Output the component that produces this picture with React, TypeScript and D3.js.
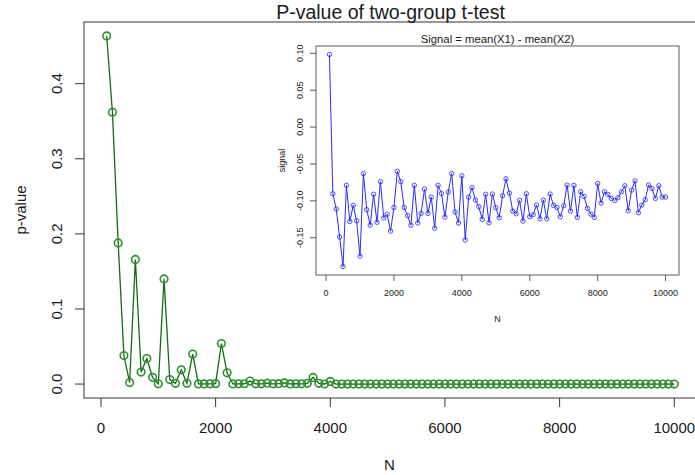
import React from "react";
import * as d3 from "d3";

// ---- data ----
const sampleSizes: number[] = [
  100, 200, 300, 400, 500, 600, 700, 800, 900, 1000,
  1100, 1200, 1300, 1400, 1500, 1600, 1700, 1800, 1900, 2000,
  2100, 2200, 2300, 2400, 2500, 2600, 2700, 2800, 2900, 3000,
  3100, 3200, 3300, 3400, 3500, 3600, 3700, 3800, 3900, 4000,
  4100, 4200, 4300, 4400, 4500, 4600, 4700, 4800, 4900, 5000,
  5100, 5200, 5300, 5400, 5500, 5600, 5700, 5800, 5900, 6000,
  6100, 6200, 6300, 6400, 6500, 6600, 6700, 6800, 6900, 7000,
  7100, 7200, 7300, 7400, 7500, 7600, 7700, 7800, 7900, 8000,
  8100, 8200, 8300, 8400, 8500, 8600, 8700, 8800, 8900, 9000,
  9100, 9200, 9300, 9400, 9500, 9600, 9700, 9800, 9900, 10000,
];

const pValues: number[] = [
  0.4636, 0.362, 0.188, 0.038, 0.002, 0.166, 0.016, 0.034, 0.009, 0.0004,
  0.14, 0.006, 0.001, 0.019, 0.001, 0.04, 0.0002, 0.0002, 0.0003, 0.0006,
  0.054, 0.015, 0.0002, 0.0003, 0.0004, 0.004, 0.0003, 0.0003, 0.0012, 0.0003,
  0.0005, 0.0015, 0.0002, 0.0004, 0.0003, 0.001, 0.0088, 0.001, 0.0001, 0.0035,
  0, 0, 0, 0, 0, 0, 0, 0, 0, 0,
  0, 0, 0, 0, 0, 0, 0, 0, 0, 0,
  0, 0, 0, 0, 0, 0, 0, 0, 0, 0,
  0, 0, 0, 0, 0, 0, 0, 0, 0, 0,
  0, 0, 0, 0, 0, 0, 0, 0, 0, 0,
  0, 0, 0, 0, 0, 0, 0, 0, 0, 0,
];

const signalValues: number[] = [
  0.0984, -0.0904, -0.111, -0.149, -0.189, -0.079, -0.128, -0.106, -0.127, -0.175,
  -0.063, -0.112, -0.133, -0.091, -0.129, -0.074, -0.123, -0.118, -0.141, -0.109,
  -0.06, -0.074, -0.109, -0.12, -0.133, -0.079, -0.13, -0.117, -0.084, -0.117,
  -0.095, -0.137, -0.079, -0.09, -0.122, -0.088, -0.063, -0.115, -0.13, -0.066,
  -0.153, -0.095, -0.082, -0.099, -0.108, -0.125, -0.091, -0.1297, -0.0908, -0.1093,
  -0.1229, -0.0931, -0.0701, -0.0895, -0.1139, -0.1175, -0.0994, -0.1274, -0.0904, -0.1215,
  -0.1188, -0.1057, -0.1243, -0.099, -0.1243, -0.0908, -0.1062, -0.1089, -0.1215, -0.1066,
  -0.0786, -0.1139, -0.0791, -0.1224, -0.0877, -0.094, -0.1103, -0.1179, -0.1224, -0.0764,
  -0.103, -0.0877, -0.0913, -0.0967, -0.0994, -0.0958, -0.0877, -0.0795, -0.1134, -0.0854,
  -0.0728, -0.1161, -0.1057, -0.0985, -0.0786, -0.0831, -0.0967, -0.0795, -0.0949, -0.0949,
];

const mainXTicks: number[] = [0, 2000, 4000, 6000, 8000, 10000];
const mainYTicks: number[] = [0, 0.1, 0.2, 0.3, 0.4];
const insetXTicks: number[] = [0, 2000, 4000, 6000, 8000, 10000];
const insetYTicks: number[] = [-0.15, -0.1, -0.05, 0, 0.05, 0.1];

const mainTitle = "P-value of two-group t-test";
const insetTitle = "Signal = mean(X1) - mean(X2)";

const FONT = "'Liberation Sans', Arial, Helvetica, sans-serif";

function padDomain(vals: number[]): [number, number] {
  const lo = d3.min(vals) as number;
  const hi = d3.max(vals) as number;
  const p = (hi - lo) * 0.04;
  return [lo - p, hi + p];
}

export default function App() {
  const W = 695;
  const H = 475;

  // main plot region
  const m = { left: 84, right: 697, top: 22, bottom: 398 };
  const x = d3.scaleLinear().domain(padDomain(sampleSizes)).range([m.left, m.right]);
  const y = d3.scaleLinear().domain(padDomain(pValues)).range([m.bottom, m.top]);

  // inset region
  const n = { left: 316, right: 679, top: 46, bottom: 275 };
  const xi = d3.scaleLinear().domain(padDomain(sampleSizes)).range([n.left, n.right]);
  const yi = d3.scaleLinear().domain(padDomain(signalValues)).range([n.bottom, n.top]);

  const mainLine = d3
    .line<number>()
    .x((_, i) => x(sampleSizes[i]))
    .y((d) => y(d))(pValues) as string;

  const insetLine = d3
    .line<number>()
    .x((_, i) => xi(sampleSizes[i]))
    .y((d) => yi(d))(signalValues) as string;

  const textColor = "#1a1a1a";
  const axisColor = "#333";

  return (
    <svg
      width={W}
      height={H}
      viewBox={`0 0 ${W} ${H}`}
      style={{ display: "block", position: "absolute", left: 0, top: 0, background: "#fff" }}
      fontFamily={FONT}
    >
      <rect x={0} y={0} width={W} height={H} fill="#fff" />

      {/* main title */}
      <text x={(m.left + m.right) / 2} y={19} textAnchor="middle" fontSize={19.5} fill={textColor}>
        {mainTitle}
      </text>

      {/* main box */}
      <rect
        x={m.left}
        y={m.top}
        width={m.right - m.left}
        height={m.bottom - m.top}
        fill="none"
        stroke={axisColor}
        strokeWidth={1}
      />

      {/* main x axis */}
      {mainXTicks.map((t) => (
        <g key={`mx${t}`}>
          <line x1={x(t)} x2={x(t)} y1={m.bottom} y2={m.bottom + 9} stroke={axisColor} />
          <text x={x(t)} y={432.5} textAnchor="middle" fontSize={15} fill={textColor}>
            {t}
          </text>
        </g>
      ))}
      <text x={(m.left + m.right) / 2 - 1} y={470} textAnchor="middle" fontSize={15} fill={textColor}>
        N
      </text>

      {/* main y axis */}
      {mainYTicks.map((t) => (
        <g key={`my${t}`}>
          <line x1={m.left - 9} x2={m.left} y1={y(t)} y2={y(t)} stroke={axisColor} />
          <text
            transform={`translate(62,${y(t)}) rotate(-90)`}
            textAnchor="middle"
            fontSize={15}
            fill={textColor}
          >
            {t.toFixed(1)}
          </text>
        </g>
      ))}
      <text
        transform={`translate(25.5,${(m.top + m.bottom) / 2}) rotate(-90)`}
        textAnchor="middle"
        fontSize={15}
        fill={textColor}
      >
        p-value
      </text>

      {/* main series */}
      <path d={mainLine} fill="none" stroke="#0f6e0f" strokeWidth={1.3} />
      {pValues.map((v, i) => (
        <circle
          key={`mp${i}`}
          cx={x(sampleSizes[i])}
          cy={y(v)}
          r={3.8}
          fill="none"
          stroke="#2f8f2f"
          strokeWidth={1.6}
        />
      ))}

      {/* inset */}
      <rect
        x={n.left}
        y={n.top}
        width={n.right - n.left}
        height={n.bottom - n.top}
        fill="#fff"
        stroke="#777"
        strokeWidth={1.2}
      />
      <text x={(n.left + n.right) / 2} y={43} textAnchor="middle" fontSize={11.3} fill={textColor}>
        {insetTitle}
      </text>

      {insetXTicks.map((t) => (
        <g key={`ix${t}`}>
          <line x1={xi(t)} x2={xi(t)} y1={n.bottom} y2={n.bottom + 6} stroke={axisColor} strokeWidth={0.8} />
          <text x={xi(t)} y={295.5} textAnchor="middle" fontSize={9} fill={textColor}>
            {t}
          </text>
        </g>
      ))}
      <text x={(n.left + n.right) / 2} y={321.5} textAnchor="middle" fontSize={9} fill={textColor}>
        N
      </text>

      {insetYTicks.map((t) => (
        <g key={`iy${t}`}>
          <line x1={n.left - 6} x2={n.left} y1={yi(t)} y2={yi(t)} stroke={axisColor} strokeWidth={0.8} />
          <text
            transform={`translate(302.5,${yi(t)}) rotate(-90)`}
            textAnchor="middle"
            fontSize={9}
            fill={textColor}
          >
            {t.toFixed(2)}
          </text>
        </g>
      ))}
      <text
        transform={`translate(285,${(n.top + n.bottom) / 2}) rotate(-90)`}
        textAnchor="middle"
        fontSize={9}
        fill={textColor}
      >
        signal
      </text>

      <path d={insetLine} fill="none" stroke="#2a2aff" strokeWidth={1} />
      {signalValues.map((v, i) => (
        <circle
          key={`ip${i}`}
          cx={xi(sampleSizes[i])}
          cy={yi(v)}
          r={2.2}
          fill="none"
          stroke="#3a3aff"
          strokeWidth={0.9}
        />
      ))}
    </svg>
  );
}
